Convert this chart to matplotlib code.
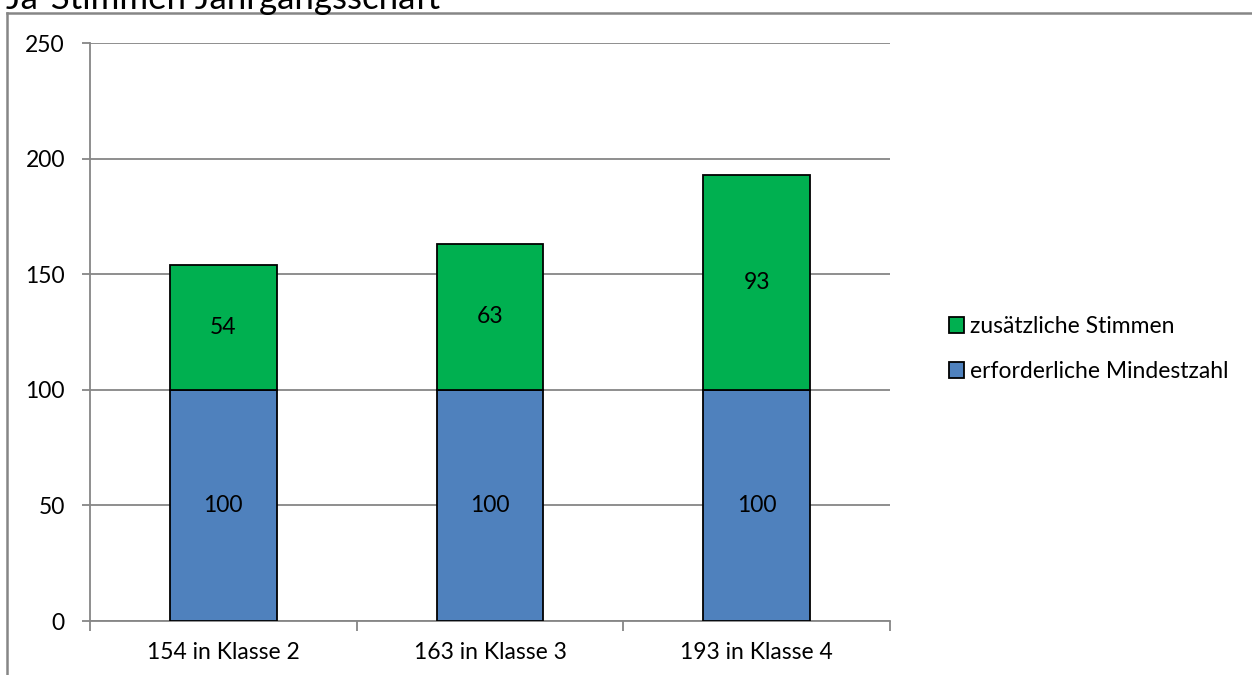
import matplotlib.pyplot as plt
from matplotlib.lines import Line2D
from matplotlib.patches import Patch
import numpy as np

categories = ["154 in Klasse 2", "163 in Klasse 3", "193 in Klasse 4"]
mindestzahl = [100, 100, 100]
zusaetzlich = [54, 63, 93]
yticks = [0, 50, 100, 150, 200, 250]

blue = "#4F81BD"
green = "#00B050"
grey = "#868686"
fs = 16.5

plt.rcParams["font.family"] = ["Lato", "DejaVu Sans"]

W, H = 1252, 675
fig = plt.figure(figsize=(W / 100, H / 100), dpi=100)
ax = fig.add_axes([90 / W, 1 - 621 / H, 800 / W, 578 / H])

x = np.arange(len(categories))
b1 = ax.bar(x, mindestzahl, width=0.4, color=blue, edgecolor="black", linewidth=1.3,
            label="erforderliche Mindestzahl", zorder=3)
b2 = ax.bar(x, zusaetzlich, width=0.4, bottom=mindestzahl, color=green, edgecolor="black",
            linewidth=1.3, label="zusätzliche Stimmen", zorder=3)
ax.bar_label(b1, labels=[str(v) for v in mindestzahl], label_type="center", fontsize=fs)
ax.bar_label(b2, labels=[str(v) for v in zusaetzlich], label_type="center", fontsize=fs)

ax.set_xlim(-0.5, len(categories) - 0.5)
ax.set_ylim(0, 250)
ax.set_yticks(yticks)
ax.set_yticklabels([str(t) for t in yticks], fontsize=fs)
ax.yaxis.grid(True, color=grey, linewidth=1.3, zorder=0)
ax.set_axisbelow(True)

ax.set_xticks(x)
ax.set_xticklabels(categories, fontsize=fs)
ax.tick_params(axis="x", length=0, pad=15)
ax.set_xticks(np.arange(len(categories) + 1) - 0.5, minor=True)
ax.tick_params(axis="x", which="minor", length=7, color=grey, width=1.3)
ax.tick_params(axis="y", length=6, color=grey, width=1.3, pad=12)

for s in ["top", "right"]:
    ax.spines[s].set_visible(False)
for s in ["left", "bottom"]:
    ax.spines[s].set_color(grey)
    ax.spines[s].set_linewidth(1.3)

handles = [Patch(facecolor=green, edgecolor="black", linewidth=1.3, label="zusätzliche Stimmen"),
           Patch(facecolor=blue, edgecolor="black", linewidth=1.3, label="erforderliche Mindestzahl")]
fig.legend(handles=handles, loc="center left", bbox_to_anchor=(928 / W, 1 - 349 / H),
           frameon=False, fontsize=fs, handlelength=0.65, handleheight=0.65,
           handletextpad=0.3, labelspacing=1.05)

# chart border (partly outside the image) and clipped title
fig.add_artist(Line2D([7 / W, 7 / W], [0, 1 - 13 / H], color=grey, linewidth=1.8))
fig.add_artist(Line2D([7 / W, 1], [1 - 13 / H, 1 - 13 / H], color=grey, linewidth=1.8))
fig.text(6 / W, 1 - 9 / H, "Ja-Stimmen Jahrgangsschaft", fontsize=25, va="baseline")

fig.savefig("out.png", dpi=100)
